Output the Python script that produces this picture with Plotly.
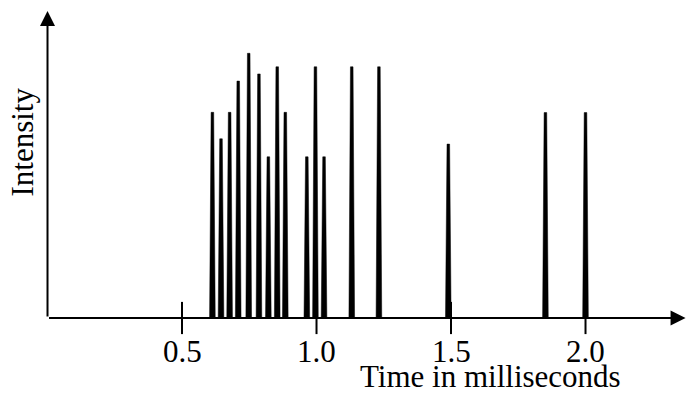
import plotly.graph_objects as go

# ---- data ----
spike_times = [0.613, 0.645, 0.677, 0.709, 0.748, 0.786, 0.821, 0.854, 0.884,
               0.964, 0.996, 1.028, 1.131, 1.232, 1.490, 1.851, 2.000]
spike_heights = [0.777, 0.677, 0.777, 0.895, 1.000, 0.922, 0.609, 0.949, 0.777,
                 0.609, 0.949, 0.609, 0.949, 0.949, 0.657, 0.776, 0.776]
tick_values = [0.5, 1.0, 1.5, 2.0]
tick_labels = ["0.5", "1.0", "1.5", "2.0"]
x_title = "Time in milliseconds"
y_title = "Intensity"

# ---- style ----
FONT = "Times New Roman, Liberation Serif, serif"
FS = 31
W, H = 687, 396
X_RANGE = [-0.1766, 2.3773]
Y_RANGE = [-0.2947, 1.2014]
HALF_BOTTOM = 0.0105
HALF_TOP = 0.0048
X_ARROW_END = 2.372
Y_ARROW_END = 1.160

xs, ys = [], []
for t, h in zip(spike_times, spike_heights):
    xs += [t - HALF_BOTTOM, t - HALF_TOP, t + HALF_TOP, t + HALF_BOTTOM, t - HALF_BOTTOM, None]
    ys += [0, h, h, 0, 0, None]

fig = go.Figure()
fig.add_trace(go.Scatter(x=xs, y=ys, mode="lines", fill="toself",
                         fillcolor="black", line=dict(color="black", width=0.5),
                         hoverinfo="skip", showlegend=False))
# crossing tick marks
fig.add_trace(go.Scatter(x=tick_values, y=[0] * len(tick_values), mode="markers",
                         marker=dict(symbol="line-ns", size=23,
                                     line=dict(color="black", width=2)),
                         hoverinfo="skip", showlegend=False))

annotations = []
# axis arrows
annotations.append(dict(x=X_ARROW_END, y=0, ax=0, ay=0, xref="x", yref="y",
                        axref="x", ayref="y", showarrow=True, arrowhead=2,
                        arrowwidth=2, arrowsize=1.5, arrowcolor="black", text="",
                        standoff=0))
annotations.append(dict(x=0, y=Y_ARROW_END, ax=0, ay=0, xref="x", yref="y",
                        axref="x", ayref="y", showarrow=True, arrowhead=2,
                        arrowwidth=2, arrowsize=1.5, arrowcolor="black", text="",
                        standoff=0))
for v, lab in zip(tick_values, tick_labels):
    annotations.append(dict(x=v, y=0, xref="x", yref="y", text=lab, showarrow=False,
                            xanchor="center", yanchor="top", yshift=-14,
                            font=dict(family=FONT, size=FS, color="black")))
annotations.append(dict(x=490.5 / W, y=0.0, xref="paper", yref="paper",
                        text=x_title, showarrow=False, xanchor="center", yanchor="bottom",
                        borderpad=0, yshift=1,
                        font=dict(family=FONT, size=FS, color="black")))
annotations.append(dict(x=22 / W, y=1 - 142.5 / H, xref="paper", yref="paper",
                        text=y_title, showarrow=False, textangle=-90,
                        xanchor="center", yanchor="middle",
                        font=dict(family=FONT, size=FS, color="black")))

fig.update_layout(
    width=W, height=H,
    margin=dict(l=0, r=0, t=0, b=0),
    paper_bgcolor="white", plot_bgcolor="white",
    xaxis=dict(range=X_RANGE, visible=False, fixedrange=True),
    yaxis=dict(range=Y_RANGE, visible=False, fixedrange=True),
    annotations=annotations,
    showlegend=False,
)
fig.write_html("out.html", config={"displayModeBar": False},
               post_script="document.body.style.margin='0';document.body.style.padding='0';document.documentElement.style.overflow='hidden';")
